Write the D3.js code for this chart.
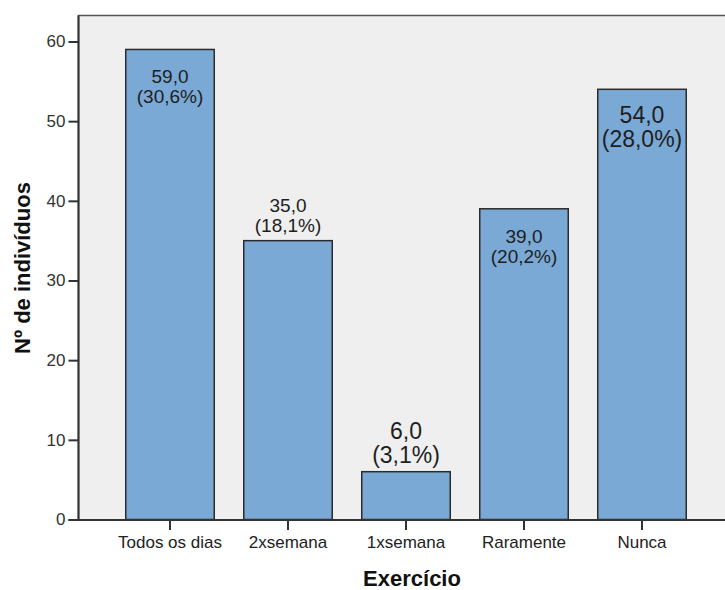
<!DOCTYPE html>
<html>
<head>
<meta charset="utf-8">
<script src="https://cdn.jsdelivr.net/npm/d3@7"></script>
<style>
  html, body { margin: 0; padding: 0; background: #fff; }
  svg { display: block; font-family: "Liberation Sans", Arial, sans-serif; }
</style>
</head>
<body>
<svg id="chart" width="725" height="590"></svg>
<script>
// Exercise frequency: number of individuals per category
const categories = ["Todos os dias", "2xsemana", "1xsemana", "Raramente", "Nunca"];
const counts = [59, 35, 6, 39, 54];
const percents = [30.6, 18.1, 3.1, 20.2, 28.0];
const yTicks = [0, 10, 20, 30, 40, 50, 60];

// Label layout per bar (inside/above the bar, font size)
const labelStyle = [
  { place: "inside", size: 19 },
  { place: "above", size: 19 },
  { place: "above", size: 23 },
  { place: "inside", size: 19 },
  { place: "inside", size: 23 }
];

const svg = d3.select("#chart");
const plot = { left: 78.5, top: 15.5, right: 745, bottom: 520 };

const x = d3.scaleBand()
  .domain(categories)
  .range([111, 701])
  .paddingInner(0.25)
  .paddingOuter(0.125);

const y = d3.scaleLinear()
  .domain([0, 60])
  .range([519.5, 41.5]);

const comma = v => d3.format(".1f")(v).replace(".", ",");

// plot background and frame
svg.append("rect")
  .attr("x", plot.left).attr("y", plot.top)
  .attr("width", plot.right - plot.left).attr("height", plot.bottom - plot.top)
  .attr("fill", "#efefef")
  .attr("stroke", "#555").attr("stroke-width", 1.5);

// bars
svg.append("g").selectAll("rect")
  .data(categories)
  .join("rect")
  .attr("x", d => x(d))
  .attr("y", (d, i) => y(counts[i]))
  .attr("width", x.bandwidth())
  .attr("height", (d, i) => y(0) - y(counts[i]))
  .attr("fill", "#7aa9d6")
  .attr("stroke", "#2b2b2b")
  .attr("stroke-width", 1.5);

// value labels: count on the first line, percentage below
const labels = svg.append("g").attr("fill", "#1e1e1e").attr("text-anchor", "middle");
categories.forEach((c, i) => {
  const st = labelStyle[i];
  const cx = x(c) + x.bandwidth() / 2;
  const top = y(counts[i]);
  const lineGap = st.size * 1.05;
  let b1, b2;
  if (st.place === "inside") {
    b1 = top + 34;
    b2 = b1 + lineGap;
  } else {
    b2 = top - 8.5;
    b1 = b2 - lineGap;
  }
  labels.append("text").attr("x", cx).attr("y", b1)
    .attr("font-size", st.size).text(comma(counts[i]));
  labels.append("text").attr("x", cx).attr("y", b2)
    .attr("font-size", st.size).text("(" + comma(percents[i]) + "%)");
});

// y axis
const yAxis = d3.axisLeft(y).tickValues(yTicks).tickSize(10).tickPadding(3).tickFormat(d3.format("d"));
const gy = svg.append("g").attr("transform", `translate(${plot.left},0)`).call(yAxis);
gy.select(".domain").attr("d", `M0,${plot.top}V${plot.bottom}`).attr("stroke", "#333").attr("stroke-width", 2);
gy.selectAll(".tick line").attr("stroke", "#333").attr("stroke-width", 2);
gy.selectAll(".tick text").attr("font-size", 17).attr("fill", "#333")
  .attr("font-family", "Liberation Sans, Arial, sans-serif");

// x axis
const xAxis = d3.axisBottom(x).tickSize(10).tickPadding(6);
const gx = svg.append("g").attr("transform", `translate(0,${plot.bottom})`).call(xAxis);
gx.select(".domain").attr("d", `M${plot.left - 10},0H${plot.right}`).attr("stroke", "#333").attr("stroke-width", 2);
gx.selectAll(".tick line").attr("stroke", "#333").attr("stroke-width", 2);
gx.selectAll(".tick text").attr("font-size", 17).attr("fill", "#222")
  .attr("font-family", "Liberation Sans, Arial, sans-serif");

// axis titles
svg.append("text")
  .attr("transform", "translate(30,268) rotate(-90)")
  .attr("text-anchor", "middle")
  .attr("font-size", 22).attr("font-weight", "bold").attr("fill", "#111")
  .text("Nº de indivíduos");

svg.append("text")
  .attr("x", 412).attr("y", 586)
  .attr("text-anchor", "middle")
  .attr("font-size", 22).attr("font-weight", "bold").attr("fill", "#111")
  .text("Exercício");
</script>
</body>
</html>
